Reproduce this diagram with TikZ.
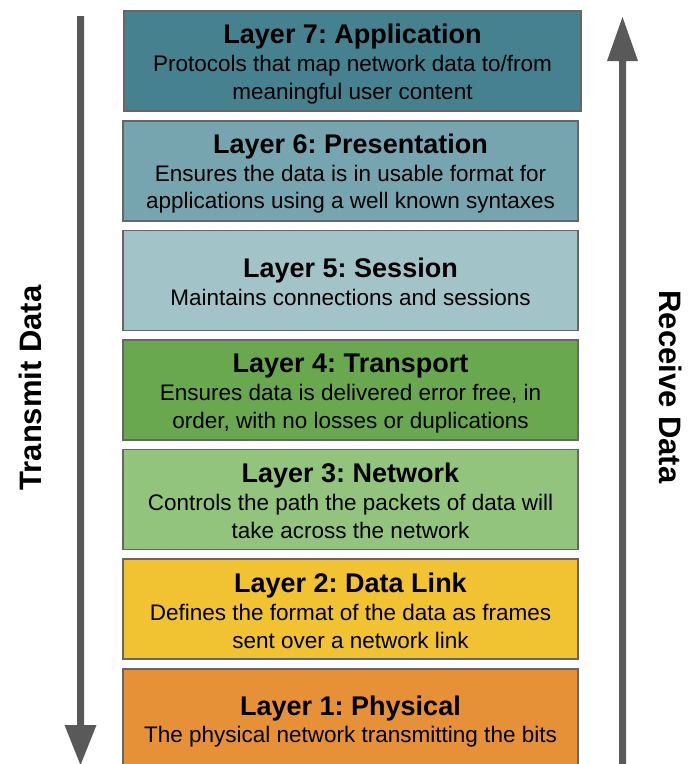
\documentclass[tikz,border=0pt]{standalone}
\usepackage{fontspec}
\setmainfont{Liberation Sans}
\frenchspacing
\definecolor{cseven}{HTML}{45818E}
\definecolor{csix}{HTML}{76A5AF}
\definecolor{cfive}{HTML}{A2C4C9}
\definecolor{cfour}{HTML}{6AA84F}
\definecolor{cthree}{HTML}{93C47D}
\definecolor{ctwo}{HTML}{F1C232}
\definecolor{cone}{HTML}{E69138}
\definecolor{boxgray}{HTML}{666666}
\definecolor{arrowgray}{HTML}{595959}
\begin{document}
\begin{tikzpicture}[x=1pt,y=-1pt,
  layerbox/.style={draw=boxgray, line width=1.4pt, inner sep=0pt, outer sep=0pt},
  ttl/.style={anchor=base, inner sep=0pt, font=\fontsize{27}{30}\selectfont\bfseries},
  bodytxt/.style={anchor=base, inner sep=0pt, font=\fontsize{22.5}{27}\selectfont},
  sidelabel/.style={inner sep=0pt, font=\fontsize{31}{34}\selectfont\bfseries}]
\clip (0,0) rectangle (699,764);
\fill[white] (0,0) rectangle (699,764);

% layer boxes
\node[layerbox, fill=cseven, minimum width=457pt, minimum height=100pt] (l7) at (352.5,61) {};
\node[layerbox, fill=csix, minimum width=455pt, minimum height=100pt] (l6) at (350.5,171) {};
\node[layerbox, fill=cfive, minimum width=455pt, minimum height=100pt] (l5) at (350.5,280.5) {};
\node[layerbox, fill=cfour, minimum width=455pt, minimum height=100pt] (l4) at (350.5,390) {};
\node[layerbox, fill=cthree, minimum width=455pt, minimum height=100pt] (l3) at (350.5,499.5) {};
\node[layerbox, fill=ctwo, minimum width=455pt, minimum height=100pt] (l2) at (350.5,609) {};
\node[layerbox, fill=cone, minimum width=455pt, minimum height=110pt] (l1) at (350.5,724) {};

% texts
\node[ttl] (t7) at (352.5,43) {Layer 7: Application};
\node[bodytxt] (b7a) at (352.5,71) {Protocols that map network data to/from};
\node[bodytxt] (b7b) at (352.5,99) {meaningful user content};

\node[ttl] (t6) at (350.5,153) {Layer 6: Presentation};
\node[bodytxt] (b6a) at (350.5,181) {Ensures the data is in usable format for};
\node[bodytxt] (b6b) at (350.5,208) {applications using a well known syntaxes};

\node[ttl] (t5) at (350.5,277) {Layer 5: Session};
\node[bodytxt] (b5a) at (350.5,305) {Maintains connections and sessions};

\node[ttl] (t4) at (350.5,372) {Layer 4: Transport};
\node[bodytxt] (b4a) at (350.5,400) {Ensures data is delivered error free, in};
\node[bodytxt] (b4b) at (350.5,428) {order, with no losses or duplications};

\node[ttl] (t3) at (350.5,482) {Layer 3: Network};
\node[bodytxt] (b3a) at (350.5,510) {Controls the path the packets of data will};
\node[bodytxt] (b3b) at (350.5,538) {take across the network};

\node[ttl] (t2) at (350.5,592) {Layer 2: Data Link};
\node[bodytxt] (b2a) at (350.5,620) {Defines the format of the data as frames};
\node[bodytxt] (b2b) at (350.5,648) {sent over a network link};

\node[ttl] (t1) at (350.5,715) {Layer 1: Physical};
\node[bodytxt] (b1a) at (350.5,742) {The physical network transmitting the bits};

% side arrows
\fill[arrowgray] (77,16) -- (84,16) -- (84,725) -- (96.5,725) -- (80.5,765) -- (64.5,725) -- (77,725) -- cycle;
\fill[arrowgray] (619,770) -- (619,61) -- (607,61) -- (622.5,17) -- (638,61) -- (626,61) -- (626,770) -- cycle;

% side labels
\node[sidelabel, rotate=90] (tx) at (30,388) {Transmit Data};
\node[sidelabel, rotate=-90] (rx) at (671,387) {Receive Data};
\end{tikzpicture}
\end{document}
